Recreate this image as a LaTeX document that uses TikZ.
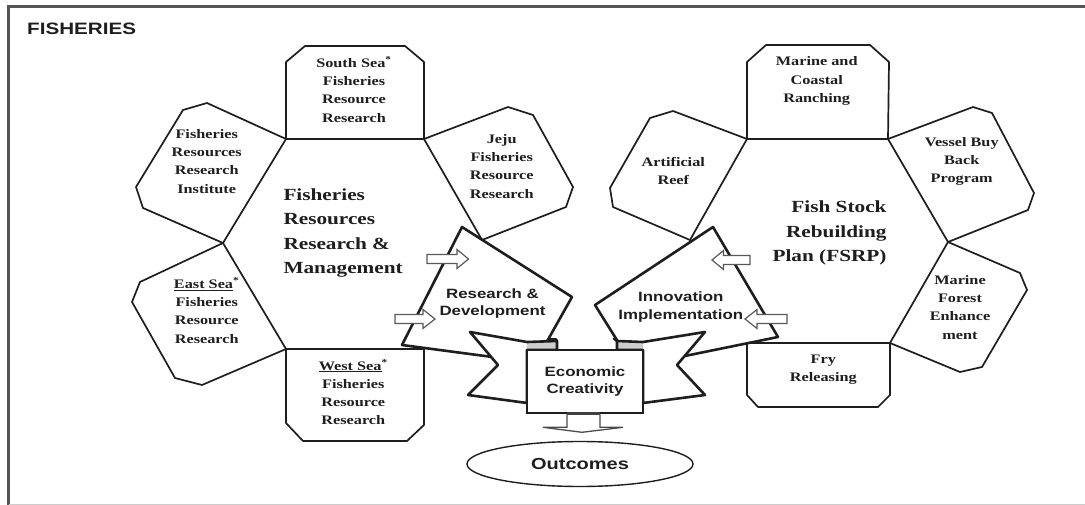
\documentclass[tikz,border=0pt]{standalone}
\usepackage{fontspec}
\setmainfont{Liberation Serif}
\newfontfamily\labelsans{Liberation Sans}
\usetikzlibrary{shapes.geometric}
% horizontally widened multi-line text block
\newcommand\widecol[2]{\scalebox{1.25}[1]{\begin{tabular}{@{}#1@{}}#2\end{tabular}}}
\definecolor{ink}{HTML}{1E1E1E}
\definecolor{framegray}{HTML}{555555}
\definecolor{tabgray}{HTML}{CDCDCD}
\begin{document}
\begin{tikzpicture}[x=1pt,y=-1pt,
  outline/.style={draw=ink,line width=1.7pt,line join=round},
  heavy/.style={draw=ink,line width=2.6pt,line join=round},
  smallarrow/.style={draw=black!65,line width=1.2pt,fill=white,line join=miter},
  seriflbl/.style={inner sep=0pt,text=ink,font=\fontsize{13}{18.3}\selectfont\bfseries},
  biglbl/.style={inner sep=0pt,text=ink,font=\fontsize{17}{24.3}\selectfont\bfseries},
  sanslbl/.style={inner sep=0pt,text=ink,font=\labelsans\fontsize{13.5}{17.7}\selectfont\bfseries},
]
\useasboundingbox (0,0) rectangle (1085,505);
\fill[white] (0,0) rectangle (1085,505);

% page frame
\draw[framegray,line width=2.5pt] (1085,6.5) -- (8.5,6.5) -- (8.5,505);
\draw[black!20,line width=1pt] (8.5,504) -- (1085,504);

% ---------- left cluster ----------
\draw[outline] (286,139) -- (424,139) -- (482,240) -- (424,349) -- (286,349) -- (223,243) -- cycle;
\draw[outline] (286,139) -- (286,62) -- (305,46) -- (405,46) -- (424,62) -- (424,139);
\draw[outline] (286,139) -- (207,103) -- (183,110) -- (136,187) -- (143,208) -- (223,243);
\draw[outline] (223,243) -- (140,282) -- (132,302) -- (175,378) -- (202,385) -- (286,349);
\draw[outline] (286,349) -- (286,423) -- (303,441) -- (407,441) -- (424,425) -- (424,349);
\draw[outline] (424,139) -- (508,107) -- (533,115) -- (573,187) -- (566,207) -- (482,240);

% ---------- right cluster ----------
\draw[outline] (747,139) -- (888,139) -- (948,242) -- (890,343) -- (747,343) -- (690,240) -- cycle;
\draw[outline] (747,139) -- (747,62) -- (766,45) -- (870,45) -- (889,62) -- (888,139);
\draw[outline] (747,139) -- (673,111) -- (650,118) -- (610,188) -- (613,207) -- (690,240);
\draw[outline] (888,139) -- (973,107) -- (992,113) -- (1034,193) -- (1028,210) -- (948,242);
\draw[outline] (948,242) -- (1020,273) -- (1027,290) -- (982,367) -- (960,372) -- (890,343);
\draw[outline] (747,343) -- (747,395) -- (758,407) -- (878,407) -- (890,395) -- (890,343);

% ---------- converging arrows ----------
\draw[heavy,fill=white] (402,345) -- (462,227) -- (572,297) -- (545,345) -- (500,358) -- cycle;
\draw[heavy,fill=white] (778,337) -- (713,227) -- (595,305) -- (620,345) -- (675,358) -- cycle;

% ribbon wings with folded tabs
\fill[white] (470,332) -- (527,342) -- (557,341) -- (557,350) -- (527,350) -- (527,403) -- (468,395) -- (498,365) -- cycle;
\fill[white] (705,332) -- (643,342) -- (617,341) -- (617,350) -- (643,350) -- (643,403) -- (705,395) -- (677,365) -- cycle;
\fill[tabgray] (527,342) -- (557,341) -- (557,350) -- (527,350) -- cycle;
\fill[tabgray] (617,341) -- (643,342) -- (643,350) -- (617,350) -- cycle;
\draw[heavy] (470,332) -- (527,342) -- (557,341) -- (557,350) -- (527,350) -- (527,403) -- (468,395) -- (498,365) -- cycle;
\draw[heavy] (705,332) -- (643,342) -- (617,341) -- (617,350) -- (643,350) -- (643,403) -- (705,395) -- (677,365) -- cycle;
% fold lines rising into the arrow edges
\draw[heavy] (548,338) to[out=-60,in=90] (557,341);
\draw[heavy] (614,338) to[out=-120,in=90] (617,341);

% centre box
\node[draw=ink,line width=2.6pt,fill=white,minimum width=116pt,minimum height=63pt,inner sep=0pt,
      sanslbl] (eco) at (585,381.5)
  {\raisebox{4.3pt}{\widecol{c}{Economic\\Creativity}}};

% outcome ellipse and the flat arrow leading to it
\node[ellipse,draw=ink,line width=1.4pt,minimum width=226pt,minimum height=45pt,inner sep=0pt,
      text=ink,font=\labelsans\fontsize{16}{19}\selectfont\bfseries] (out) at (580,464)
  {\scalebox{1.25}[1]{Outcomes}};
\draw[black!75,line width=3.2pt] (eco.south) ++(-18,-1) -- ++(33,0);
\draw[black!70,line width=1.3pt,line join=miter] (eco.south) ++(-18,0) -- ++(0,13) -- ++(-24,0)
  -- ++(39,5) -- ++(41,-5) -- ++(-23,0) -- ++(0,-13);

% small input arrows
\draw[smallarrow] (427,259) ++(0,-4.5) -- ++(30,0) -- ++(0,-5) -- ++(11.5,9.5) -- ++(-11.5,9.5) -- ++(0,-5) -- ++(-30,0) -- cycle;
\draw[smallarrow] (395,319) ++(0,-4.5) -- ++(28,0) -- ++(0,-5) -- ++(12,9.5) -- ++(-12,9.5) -- ++(0,-5) -- ++(-28,0) -- cycle;
\draw[smallarrow] (750,260) ++(0,-4.5) -- ++(-26.5,0) -- ++(0,-5) -- ++(-11.5,9.5) -- ++(11.5,9.5) -- ++(0,-5) -- ++(26.5,0) -- cycle;
\draw[smallarrow] (787,319) ++(0,-4.5) -- ++(-30,0) -- ++(0,-5) -- ++(-12,9.5) -- ++(12,9.5) -- ++(0,-5) -- ++(30,0) -- cycle;

% ---------- labels ----------
\node[anchor=base west,inner sep=0pt,text=ink,font=\labelsans\fontsize{16.5}{19}\selectfont\bfseries]
  (title) at (27,34.3) {\scalebox{1.25}[1]{FISHERIES}};

\node[biglbl,anchor=west] (frrm) at (283.3,232.2) {\widecol{l}{Fisheries\\Resources\\Research \&\\Management}};
\node[biglbl,anchor=east] (fsrp) at (886.7,232.3) {\widecol{r}{Fish Stock\\Rebuilding\\Plan (FSRP)}};

\node[seriflbl] (southsea) at (354,91.1) {\widecol{c}{South Sea\textsuperscript{*}\\Fisheries\\Resource\\Research}};
\node[seriflbl] (frri) at (206.7,162.1) {\widecol{c}{Fisheries\\Resources\\Research\\Institute}};
\node[seriflbl] (jeju) at (501.7,167.1) {\widecol{c}{Jeju\\Fisheries\\Resource\\Research}};
\node[seriflbl] (eastsea) at (206.7,312.1) {\widecol{c}{\underline{East Sea}\textsuperscript{*}\\Fisheries\\Resource\\Research}};
\node[seriflbl] (westsea) at (353.3,393.8) {\widecol{c}{\underline{West Sea}\textsuperscript{*}\\Fisheries\\Resource\\Research}};

\node[seriflbl] (ranching) at (816.7,80.5) {\widecol{c}{Marine and\\Coastal\\Ranching}};
\node[seriflbl] (reef) at (673.3,171.8) {\widecol{c}{Artificial\\Reef}};
\node[seriflbl] (vessel) at (961.7,161) {\widecol{c}{Vessel Buy\\Back\\Program}};
\node[seriflbl] (forest) at (960,308) {\widecol{c}{Marine\\Forest\\Enhance\\ment}};
\node[seriflbl] (fry) at (823.3,368.8) {\widecol{c}{Fry\\Releasing}};

\node[sanslbl] (rnd) at (492.5,303.6) {\widecol{c}{Research \&\\Development}};
\node[sanslbl] (innov) at (680.8,307) {\widecol{c}{Innovation\\Implementation}};
\end{tikzpicture}
\end{document}
